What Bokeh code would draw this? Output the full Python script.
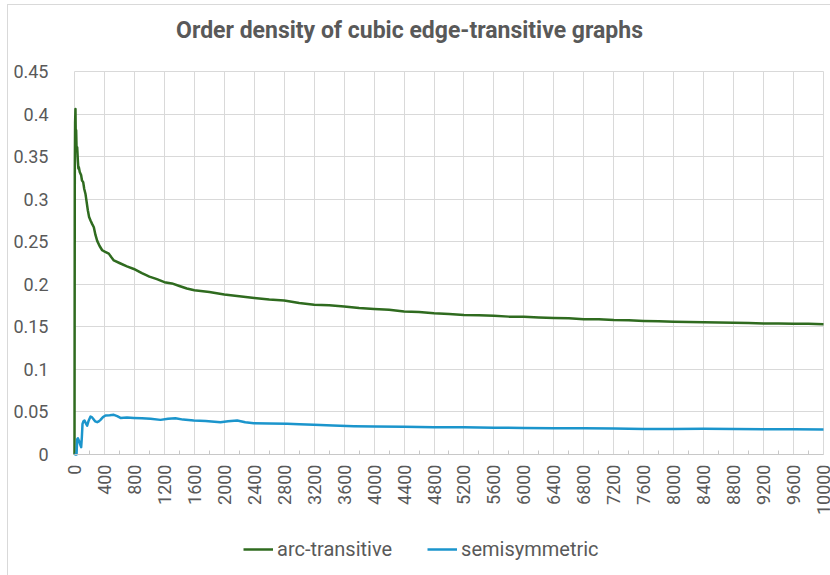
import math
from bokeh.plotting import figure
from bokeh.models import (Range1d, FixedTicker, Legend, LegendItem, Label)
from bokeh.embed import file_html
from bokeh.resources import INLINE

# ---- data ----
arc_x = [0, 4, 8, 13, 17, 22, 28, 36, 45, 52, 58, 70, 89, 100, 116, 130, 147, 160,
         178, 195, 214, 235, 258, 280, 303, 335, 370, 410, 458, 490, 525, 600, 700,
         792, 900, 1000, 1100, 1200, 1300, 1400, 1500, 1600, 1800, 2000, 2200, 2400,
         2600, 2800, 3000, 3200, 3400, 3600, 3800, 4000, 4200, 4400, 4600, 4800, 5000,
         5200, 5400, 5600, 5800, 6000, 6200, 6400, 6600, 6800, 7000, 7200, 7400, 7600,
         7800, 8000, 8200, 8400, 8600, 8800, 9000, 9200, 9400, 9600, 9800, 10000]
arc_y = [0.0, 0.33, 0.39, 0.406, 0.372, 0.381, 0.358, 0.361, 0.345, 0.336, 0.3375,
         0.332, 0.328, 0.322, 0.320, 0.312, 0.306, 0.298, 0.287, 0.279, 0.275, 0.271,
         0.267, 0.258, 0.251, 0.245, 0.240, 0.238, 0.236, 0.232, 0.228, 0.225, 0.221,
         0.218, 0.213, 0.209, 0.206, 0.2025, 0.201, 0.198, 0.195, 0.193, 0.191, 0.188,
         0.186, 0.184, 0.182, 0.181, 0.178, 0.176, 0.1755, 0.174, 0.172, 0.171, 0.170,
         0.168, 0.1675, 0.166, 0.165, 0.164, 0.1635, 0.163, 0.162, 0.1618, 0.161,
         0.1605, 0.160, 0.159, 0.159, 0.158, 0.1578, 0.157, 0.1565, 0.156, 0.1558,
         0.1555, 0.155, 0.1548, 0.1545, 0.154, 0.1538, 0.1535, 0.1535, 0.153]

semi_x = [0, 27, 33, 36, 45, 58, 75, 89, 98, 107, 120, 134, 150, 169, 190, 214, 230,
          249, 275, 303, 325, 347, 380, 414, 470, 525, 570, 614, 700, 792, 900, 1015,
          1148, 1250, 1348, 1450, 1593, 1750, 1949, 2050, 2172, 2280, 2394, 2600, 2839,
          3000, 3195, 3450, 3729, 4000, 4400, 4800, 5200, 5600, 6000, 6400, 6800, 7200,
          7600, 8000, 8400, 8800, 9200, 9600, 10000]
semi_y = [0.0, 0.0, 0.012, 0.018, 0.019, 0.0165, 0.012, 0.0086, 0.02, 0.036, 0.039,
          0.040, 0.037, 0.034, 0.040, 0.0446, 0.044, 0.042, 0.039, 0.038, 0.039, 0.0407,
          0.044, 0.0458, 0.046, 0.0466, 0.045, 0.043, 0.0435, 0.043, 0.0425, 0.042,
          0.0407, 0.042, 0.0427, 0.041, 0.040, 0.0395, 0.038, 0.039, 0.040, 0.038,
          0.0368, 0.0365, 0.036, 0.0355, 0.0349, 0.034, 0.0333, 0.033, 0.0325, 0.032,
          0.032, 0.0315, 0.0312, 0.031, 0.0308, 0.0305, 0.030, 0.030, 0.0302, 0.030,
          0.0298, 0.0297, 0.0295]

x_ticks = list(range(0, 10001, 400))
x_minor = list(range(200, 10000, 400))
y_ticks = [0, 0.05, 0.1, 0.15, 0.2, 0.25, 0.3, 0.35, 0.4, 0.45]
y_labels = ["0", "0.05", "0.1", "0.15", "0.2", "0.25", "0.3", "0.35", "0.4", "0.45"]

title_text = "Order density of cubic edge-transitive graphs"
series_names = ["arc-transitive", "semisymmetric"]
colors = ["#2f6b1f", "#1b95cc"]

TXT = "#595959"
GRID = "#d9d9d9"
FONT = "Roboto"

# the frame covers the whole chart box; the value area is 0..10000 x 0..0.45
p = figure(title=None, frame_width=764, frame_height=570,
           min_border_left=58, min_border_right=0, min_border_top=0, min_border_bottom=0,
           x_range=Range1d(-106.8, 10093.5), y_range=Range1d(-0.14215, 0.52754),
           output_backend="svg", toolbar_location=None,
           background_fill_color="white", border_fill_color="white")
p.outline_line_color = None
p.styles = {"margin-left": "7px", "margin-top": "4px",
            "border-left": "1px solid #d9d9d9", "border-top": "1px solid #d9d9d9"}

# axes
xa = p.xaxis[0]
xa.fixed_location = 0
xa.bounds = (0, 10000)
xa.ticker = FixedTicker(ticks=x_ticks, minor_ticks=x_minor)
xa.axis_line_color = "#c8c8c8"
xa.major_tick_in = 0
xa.major_tick_out = 0
xa.minor_tick_in = 4
xa.minor_tick_out = 0
xa.minor_tick_line_color = "#c8c8c8"
xa.major_label_orientation = math.pi / 2
xa.major_label_standoff = 10
xa.major_label_text_font = FONT
xa.major_label_text_font_size = "18px"
xa.major_label_text_color = TXT

ya = p.yaxis[0]
ya.ticker = FixedTicker(ticks=y_ticks)
ya.major_label_overrides = {t: l for t, l in zip(y_ticks, y_labels)}
ya.axis_line_color = None
ya.major_tick_line_color = None
ya.minor_tick_line_color = None
ya.major_label_standoff = 12
ya.major_label_text_font = FONT
ya.major_label_text_font_size = "18px"
ya.major_label_text_color = TXT

p.xgrid.ticker = FixedTicker(ticks=x_ticks)
p.ygrid.ticker = FixedTicker(ticks=y_ticks)
p.xgrid.bounds = (0, 10000)
p.ygrid.bounds = (0, 0.45)
try:
    p.xgrid.cross_bounds = (0, 0.45)
    p.ygrid.cross_bounds = (0, 10000)
except AttributeError:
    pass
p.xgrid.grid_line_color = GRID
p.ygrid.grid_line_color = GRID

r1 = p.line(arc_x, arc_y, line_color=colors[0], line_width=2.5, line_join="round")
r2 = p.line(semi_x, semi_y, line_color=colors[1], line_width=2.5, line_join="round")

legend = Legend(items=[LegendItem(label=series_names[0], renderers=[r1]),
                       LegendItem(label=series_names[1], renderers=[r2])],
                location=(177, 14), orientation="horizontal",
                glyph_width=30, glyph_height=22, label_standoff=4, spacing=35,
                padding=0, margin=0, border_line_color=None, background_fill_alpha=0,
                label_text_font=FONT, label_text_font_size="20px", label_text_color=TXT)
p.add_layout(legend, "center")

title = Label(x=4473, y=0.498, text=title_text, text_align="center",
              text_baseline="middle", text_font=FONT, text_font_style="bold",
              text_font_size="23px", text_color=TXT)
p.add_layout(title)

open("out.html", "w").write(file_html(p, INLINE))
